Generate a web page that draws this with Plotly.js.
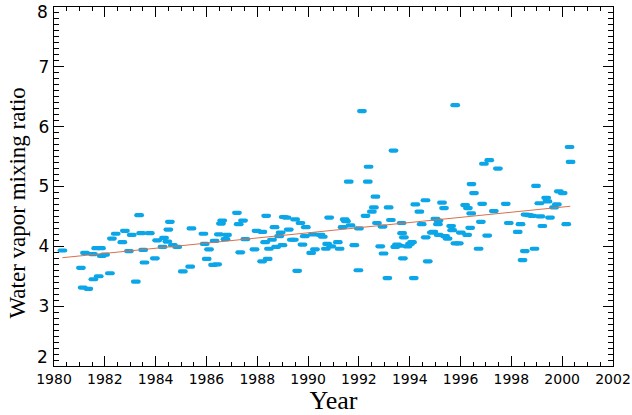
<!DOCTYPE html>
<html>
<head>
<meta charset="utf-8">
<script src="https://cdn.plot.ly/plotly-3.0.1.min.js"></script>
<style>
html,body{margin:0;padding:0;background:#fff;}
#chart{width:632px;height:415px;}
#chart .scatterlayer path.point{stroke-linecap:round;}
</style>
</head>
<body>
<div id="chart"></div>
<script>
const years = [1980.33,1981.06,1981.13,1981.22,1981.35,1981.53,1981.55,1981.66,1981.76,1981.85,1981.88,1982.01,1982.20,1982.28,1982.43,1982.69,1982.79,1982.95,1983.06,1983.22,1983.35,1983.43,1983.51,1983.56,1983.77,1983.97,1984.06,1984.27,1984.33,1984.46,1984.50,1984.56,1984.68,1984.85,1985.07,1985.36,1985.41,1985.88,1985.93,1986.01,1986.10,1986.26,1986.32,1986.42,1986.49,1986.57,1986.62,1986.75,1986.81,1987.20,1987.27,1987.33,1987.44,1987.53,1987.89,1987.97,1988.19,1988.20,1988.31,1988.35,1988.41,1988.46,1988.58,1988.68,1988.74,1988.86,1988.92,1988.99,1989.04,1989.15,1989.24,1989.36,1989.44,1989.49,1989.57,1989.70,1989.78,1989.87,1989.91,1990.12,1990.19,1990.27,1990.49,1990.58,1990.70,1990.75,1990.83,1990.91,1991.17,1991.24,1991.36,1991.44,1991.49,1991.60,1991.67,1991.82,1991.98,1992.00,1992.12,1992.26,1992.35,1992.38,1992.51,1992.59,1992.65,1992.71,1992.84,1992.93,1992.97,1993.12,1993.17,1993.26,1993.36,1993.43,1993.50,1993.60,1993.68,1993.70,1993.73,1993.77,1993.91,1994.01,1994.09,1994.16,1994.22,1994.38,1994.47,1994.62,1994.63,1994.71,1994.87,1994.93,1995.01,1995.11,1995.13,1995.14,1995.27,1995.35,1995.39,1995.49,1995.63,1995.67,1995.79,1995.80,1995.93,1996.01,1996.18,1996.26,1996.29,1996.38,1996.42,1996.43,1996.53,1996.71,1996.80,1996.85,1996.92,1997.05,1997.13,1997.31,1997.47,1997.78,1997.90,1998.25,1998.36,1998.44,1998.53,1998.56,1998.69,1998.82,1998.91,1998.97,1999.10,1999.14,1999.22,1999.37,1999.42,1999.52,1999.68,1999.79,1999.87,2000.02,2000.16,2000.29,2000.33];
const ratios = [3.93,3.64,3.31,3.89,3.29,3.87,3.45,3.97,3.50,3.97,3.84,3.86,3.55,4.13,4.21,4.07,4.26,3.92,4.19,3.41,4.52,4.22,3.94,3.73,4.22,3.80,4.10,3.99,4.14,4.08,4.28,4.41,4.02,3.99,3.58,3.66,4.30,4.21,4.04,3.79,3.95,3.69,4.09,3.70,4.20,4.38,4.43,4.12,4.19,4.56,4.37,3.90,4.43,4.12,3.95,4.26,3.75,4.24,4.07,4.51,3.79,3.96,4.11,4.32,3.99,4.17,4.23,4.02,4.49,4.48,4.28,4.11,4.11,4.45,3.59,4.39,4.03,4.17,4.32,3.89,4.20,3.95,4.19,4.16,3.96,4.04,4.48,4.00,4.07,3.96,4.32,4.45,4.42,5.08,4.35,4.02,3.60,4.30,6.26,4.51,5.08,5.33,4.58,4.65,4.83,4.39,4.00,4.33,3.88,3.47,4.65,4.44,5.60,3.99,4.03,4.01,4.39,4.22,3.80,4.15,4.00,4.04,4.07,3.47,4.70,4.58,4.37,4.77,4.15,3.75,4.23,4.24,4.46,4.37,4.43,4.19,4.73,4.64,4.17,4.13,4.34,4.27,6.36,4.05,4.05,4.23,4.69,4.19,4.64,4.31,4.55,5.04,4.89,3.96,4.41,4.71,5.38,4.18,5.44,4.59,5.30,4.71,4.39,4.24,4.37,3.77,3.92,4.53,4.52,4.51,3.96,5.01,4.72,4.50,4.34,4.81,4.75,4.48,4.65,4.70,4.92,4.89,4.37,5.66,5.41];
const trendYears = [1980.33, 2000.32];
const trendValues = [3.81, 4.67];
const xTickVals = [1980,1982,1984,1986,1988,1990,1992,1994,1996,1998,2000,2002];
const yTickVals = [3,4,5,6,7];
const yEndLabels = [2, 8];
const yTitle = 'Water vapor mixing ratio';
const xTitle = 'Year';

const traces = [
  {x: years, y: ratios, type: 'scatter', mode: 'markers',
   marker: {symbol: 'line-ew', size: 4, color: '#0aa6e8', line: {color: '#0aa6e8', width: 4.2}},
   hoverinfo: 'x+y', showlegend: false},
  {x: trendYears, y: trendValues, type: 'scatter', mode: 'lines',
   line: {color: '#d8704c', width: 1}, showlegend: false},
  {x: [], y: [], xaxis: 'x2', yaxis: 'y2', type: 'scatter', mode: 'markers', showlegend: false, hoverinfo: 'skip'}
];

const tickCommon = {ticks: 'inside', ticklen: 10, tickwidth: 1, tickcolor: '#000', showgrid: false, zeroline: false};

const layout = {
  width: 632, height: 415,
  margin: {l: 54, r: 19, t: 7, b: 49},
  paper_bgcolor: '#fff', plot_bgcolor: '#fff',
  showlegend: false,
  xaxis: Object.assign({}, tickCommon, {
    showline: true, linecolor: '#000', linewidth: 1.2, mirror: true,
    range: [1980, 2002], tickmode: 'array', tickvals: xTickVals, ticktext: xTickVals.map(String),
    tickfont: {family: 'DejaVu Sans', size: 14, color: '#000'},
    minor: {ticks: 'inside', ticklen: 4, dtick: 0.5, tickcolor: '#000', tickwidth: 1, showgrid: false},
    title: {text: xTitle, font: {family: 'Liberation Serif', size: 26, color: '#000'}, standoff: 2}
  }),
  yaxis: Object.assign({}, tickCommon, {
    showline: true, linecolor: '#000', linewidth: 1.2, mirror: true,
    range: [2, 8], tickmode: 'array', tickvals: yTickVals, ticktext: yTickVals.map(String),
    tickfont: {family: 'DejaVu Sans', size: 17, color: '#000'},
    minor: {ticks: 'inside', ticklen: 5, dtick: 0.1, tickcolor: '#000', tickwidth: 1, showgrid: false}
  }),
  xaxis2: Object.assign({}, tickCommon, {
    overlaying: 'x', side: 'top', anchor: 'y', range: [1980, 2002],
    tickmode: 'array', tickvals: xTickVals, showticklabels: false, showline: false,
    minor: {ticks: 'inside', ticklen: 4, dtick: 0.5, tickcolor: '#000', tickwidth: 1, showgrid: false}
  }),
  yaxis2: Object.assign({}, tickCommon, {
    overlaying: 'y', side: 'right', anchor: 'x', range: [2, 8],
    tickmode: 'array', tickvals: [2,3,4,5,6,7,8], showticklabels: false, showline: false,
    minor: {ticks: 'inside', ticklen: 5, dtick: 0.1, tickcolor: '#000', tickwidth: 1, showgrid: false}
  }),
  annotations: yEndLabels.map((v, i) => ({
    text: String(v), xref: 'paper', x: 0, xanchor: 'right', xshift: -4,
    yref: 'y', y: v, yanchor: 'middle', yshift: i === 0 ? 9 : -5, showarrow: false,
    font: {family: 'DejaVu Sans', size: 17, color: '#000'}
  })).concat([{
    text: yTitle, textangle: -90, xref: 'paper', x: 0, xanchor: 'center', xshift: -37,
    yref: 'paper', y: 0.5, yanchor: 'middle', yshift: -17, showarrow: false,
    font: {family: 'Liberation Serif', size: 23, color: '#000'}
  }])
};

Plotly.newPlot('chart', traces, layout, {displayModeBar: false, staticPlot: true});
</script>
</body>
</html>
